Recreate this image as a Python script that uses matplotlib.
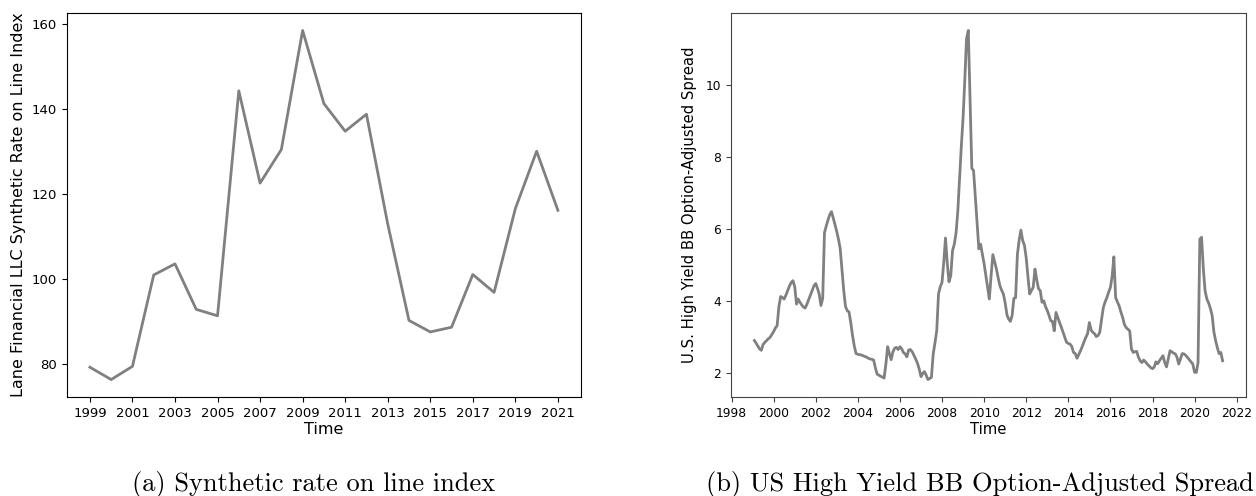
import matplotlib
matplotlib.use("Agg")
import matplotlib.pyplot as plt
import matplotlib.dates as mdates
import pandas as pd

# ---------------- data ----------------
years_a = list(range(1999, 2022))
rol_index = [79.2, 76.3, 79.4, 100.9, 103.5, 92.8, 91.3, 144.2, 122.5, 130.4,
             158.4, 141.2, 134.7, 138.7, 112.9, 90.2, 87.5, 88.6, 101.0, 96.8,
             116.5, 130.0, 116.1]

spread_start = "1999-01-31"
bb_spread = [
    # 1999
    2.91, 2.84, 2.76, 2.68, 2.64, 2.80, 2.86, 2.91, 2.96, 3.00, 3.08, 3.16,
    # 2000
    3.26, 3.32, 3.85, 4.13, 4.10, 4.06, 4.17, 4.30, 4.42, 4.52, 4.57, 4.40,
    # 2001
    3.92, 4.06, 3.97, 3.90, 3.84, 3.81, 3.92, 4.05, 4.17, 4.30, 4.43, 4.49,
    # 2002
    4.35, 4.20, 3.88, 4.08, 5.90, 6.08, 6.25, 6.40, 6.48, 6.30, 6.12, 5.92,
    # 2003
    5.70, 5.45, 4.85, 4.30, 3.85, 3.74, 3.70, 3.40, 3.05, 2.75, 2.55, 2.53,
    # 2004
    2.52, 2.51, 2.49, 2.47, 2.45, 2.42, 2.40, 2.39, 2.37, 2.15, 1.98, 1.95,
    # 2005
    1.92, 1.90, 1.87, 2.25, 2.74, 2.55, 2.38, 2.60, 2.70, 2.72, 2.66, 2.74,
    # 2006
    2.68, 2.58, 2.54, 2.46, 2.65, 2.66, 2.60, 2.50, 2.40, 2.28, 2.12, 1.91,
    # 2007
    2.00, 2.05, 1.95, 1.83, 1.86, 1.89, 2.54, 2.85, 3.18, 4.20, 4.40, 4.52,
    # 2008
    5.10, 5.75, 5.05, 4.54, 4.71, 5.40, 5.58, 5.90, 6.50, 7.40, 8.30, 9.10,
    # 2009
    10.20, 11.27, 11.50, 9.56, 7.68, 7.62, 6.90, 6.20, 5.45, 5.58, 5.30, 5.03,
    # 2010
    4.70, 4.40, 4.06, 4.70, 5.29, 5.10, 4.90, 4.65, 4.43, 4.30, 4.20, 3.95,
    # 2011
    3.62, 3.51, 3.44, 3.60, 4.08, 4.10, 5.30, 5.70, 5.97, 5.68, 5.55, 5.20,
    # 2012
    4.66, 4.20, 4.30, 4.38, 4.89, 4.60, 4.35, 4.29, 3.97, 4.01, 3.85, 3.74,
    # 2013
    3.60, 3.46, 3.44, 3.18, 3.69, 3.55, 3.41, 3.28, 3.14, 3.00, 2.86, 2.83,
    # 2014
    2.81, 2.75, 2.58, 2.55, 2.42, 2.52, 2.63, 2.75, 2.88, 3.00, 3.10, 3.41,
    # 2015
    3.20, 3.14, 3.10, 3.02, 3.05, 3.14, 3.50, 3.83, 3.98, 4.10, 4.25, 4.38,
    # 2016
    4.70, 5.23, 4.10, 3.98, 3.87, 3.70, 3.55, 3.35, 3.27, 3.22, 3.18, 2.67,
    # 2017
    2.58, 2.60, 2.61, 2.45, 2.35, 2.30, 2.37, 2.32, 2.26, 2.21, 2.16, 2.13,
    # 2018
    2.18, 2.32, 2.27, 2.35, 2.42, 2.49, 2.30, 2.18, 2.40, 2.63, 2.60, 2.56,
    # 2019
    2.54, 2.45, 2.26, 2.40, 2.55, 2.54, 2.50, 2.44, 2.38, 2.32, 2.26, 2.03,
    # 2020
    2.03, 2.30, 5.72, 5.77, 4.90, 4.29, 4.06, 3.95, 3.80, 3.60, 3.15, 2.90,
    # 2021
    2.70, 2.55, 2.58, 2.35,
]

left_xticks = list(range(1999, 2022, 2))
left_ylabel = "Lane Financial LLC Synthetic Rate on Line Index"
right_ylabel = "U.S. High Yield BB Option-Adjusted Spread"
xlabel = "Time"
caption_a = "(a) Synthetic rate on line index"
caption_b = "(b) US High Yield BB Option-Adjusted Spread"

# ---------------- figure ----------------
W, H = 1256, 496
fig = plt.figure(figsize=(W / 100, H / 100), dpi=100)

def frac(x0, y0, x1, y1):
    return [x0 / W, 1 - y1 / H, (x1 - x0) / W, (y1 - y0) / H]

ax1 = fig.add_axes(frac(66.5, 13, 581.3, 397))
ax1.plot(years_a, rol_index, color="grey", lw=2)
ax1.set_xticks(left_xticks)
ax1.tick_params(labelsize=9.5)
ax1.set_xlabel(xlabel, fontsize=11.5, labelpad=2)
ax1.set_ylabel(left_ylabel, fontsize=11.5, labelpad=4)

dates = pd.date_range(spread_start, periods=len(bb_spread), freq=pd.offsets.MonthEnd())
ax2 = fig.add_axes(frac(731, 13, 1246, 397))
ax2.plot(dates, bb_spread, color="grey", lw=2)
ax2.xaxis.set_major_locator(mdates.YearLocator(2))
ax2.xaxis.set_major_formatter(mdates.DateFormatter("%Y"))
ax2.tick_params(labelsize=8.8, color="#444444")
for s in ax2.spines.values():
    s.set_color("#444444")
ax2.set_xlabel(xlabel, fontsize=10.7, labelpad=2)
ax2.set_ylabel(right_ylabel, fontsize=10.7, labelpad=6)

cap_y = 1 - 491 / H
fig.text(314 / W, cap_y, caption_a, family="cmr10", fontsize=19,
         ha="center", va="baseline")
fig.text(980 / W, cap_y, caption_b, family="cmr10", fontsize=19,
         ha="center", va="baseline")

fig.savefig("out.png", dpi=100)
